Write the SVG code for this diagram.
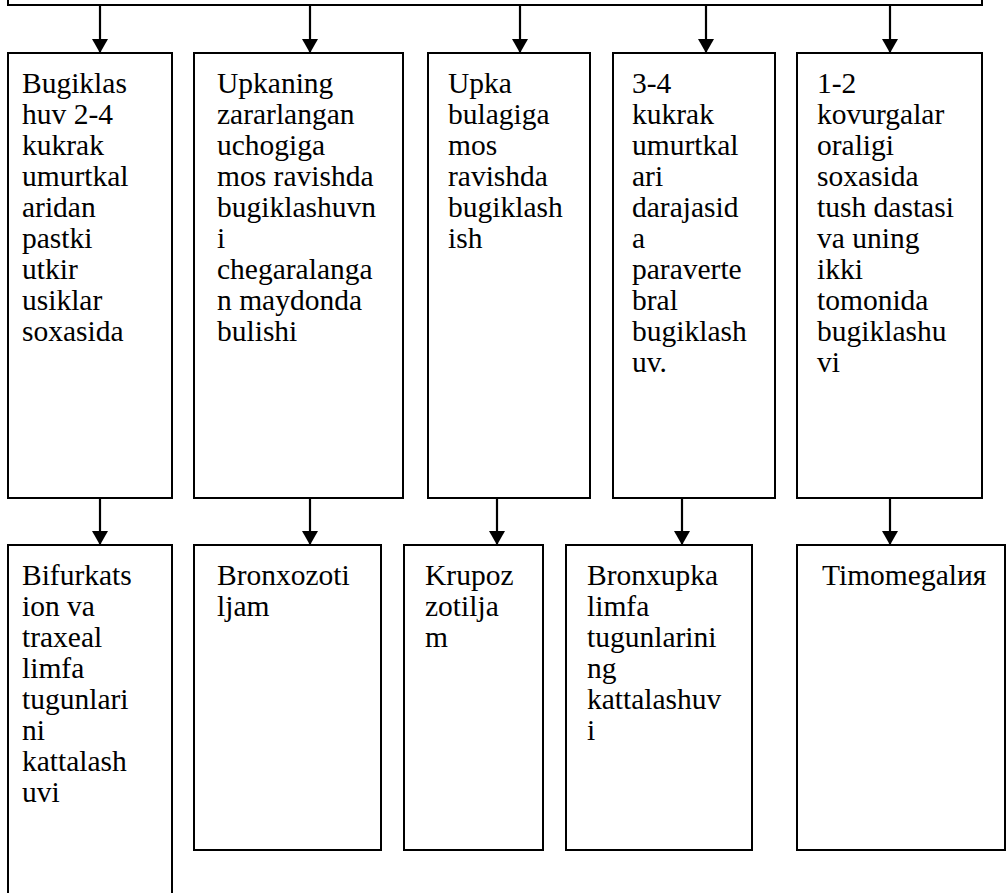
<svg xmlns="http://www.w3.org/2000/svg" width="1007" height="893" viewBox="0 0 1007 893">
  <style>
    .box { fill: #fff; stroke: #000; stroke-width: 2; }
    .lbl { font-family: "Liberation Serif", "Times New Roman", serif; font-size: 29.5px; fill: #000; }
    .conn { stroke: #000; stroke-width: 2.2; fill: none; marker-end: url(#arrow); }
  </style>
  <defs>
    <marker id="arrow" markerUnits="userSpaceOnUse" markerWidth="15" markerHeight="16" refX="14" refY="8" orient="auto">
      <path d="M0,0 L14,8 L0,16 z" fill="#000"/>
    </marker>
  </defs>
  <rect width="1007" height="893" fill="#fff"/>

  <!-- header bar -->
  <g id="header">
    <rect class="box" x="8" y="-10" width="974" height="15"/>
  </g>

  <!-- upper row -->
  <g id="n1">
    <rect class="box" x="8" y="53" width="164" height="445"/>
    <text class="lbl" x="22" y="93">
      <tspan x="22">Bugiklas</tspan><tspan x="22" dy="31">huv 2-4</tspan><tspan x="22" dy="31">kukrak</tspan><tspan x="22" dy="31">umurtkal</tspan><tspan x="22" dy="31">aridan</tspan><tspan x="22" dy="31">pastki</tspan><tspan x="22" dy="31">utkir</tspan><tspan x="22" dy="31">usiklar</tspan><tspan x="22" dy="31">soxasida</tspan>
    </text>
  </g>
  <g id="n2">
    <rect class="box" x="194" y="53" width="209" height="445"/>
    <text class="lbl" x="217" y="93">
      <tspan x="217">Upkaning</tspan><tspan x="217" dy="31">zararlangan</tspan><tspan x="217" dy="31">uchogiga</tspan><tspan x="217" dy="31">mos ravishda</tspan><tspan x="217" dy="31">bugiklashuvn</tspan><tspan x="217" dy="31">i</tspan><tspan x="217" dy="31">chegaralanga</tspan><tspan x="217" dy="31">n maydonda</tspan><tspan x="217" dy="31">bulishi</tspan>
    </text>
  </g>
  <g id="n3">
    <rect class="box" x="428" y="53" width="162" height="445"/>
    <text class="lbl" x="448" y="93">
      <tspan x="448">Upka</tspan><tspan x="448" dy="31">bulagiga</tspan><tspan x="448" dy="31">mos</tspan><tspan x="448" dy="31">ravishda</tspan><tspan x="448" dy="31">bugiklash</tspan><tspan x="448" dy="31">ish</tspan>
    </text>
  </g>
  <g id="n4">
    <rect class="box" x="613" y="53" width="162" height="445"/>
    <text class="lbl" x="632" y="93">
      <tspan x="632">3-4</tspan><tspan x="632" dy="31">kukrak</tspan><tspan x="632" dy="31">umurtkal</tspan><tspan x="632" dy="31">ari</tspan><tspan x="632" dy="31">darajasid</tspan><tspan x="632" dy="31">a</tspan><tspan x="632" dy="31">paraverte</tspan><tspan x="632" dy="31">bral</tspan><tspan x="632" dy="31">bugiklash</tspan><tspan x="632" dy="31">uv.</tspan>
    </text>
  </g>
  <g id="n5">
    <rect class="box" x="797" y="53" width="185" height="445"/>
    <text class="lbl" x="817" y="93">
      <tspan x="817">1-2</tspan><tspan x="817" dy="31">kovurgalar</tspan><tspan x="817" dy="31">oraligi</tspan><tspan x="817" dy="31">soxasida</tspan><tspan x="817" dy="31">tush dastasi</tspan><tspan x="817" dy="31">va uning</tspan><tspan x="817" dy="31">ikki</tspan><tspan x="817" dy="31">tomonida</tspan><tspan x="817" dy="31">bugiklashu</tspan><tspan x="817" dy="31">vi</tspan>
    </text>
  </g>

  <!-- lower row -->
  <g id="m1">
    <rect class="box" x="8" y="545" width="164" height="370"/>
    <text class="lbl" x="22" y="585">
      <tspan x="22">Bifurkats</tspan><tspan x="22" dy="31">ion va</tspan><tspan x="22" dy="31">traxeal</tspan><tspan x="22" dy="31">limfa</tspan><tspan x="22" dy="31">tugunlari</tspan><tspan x="22" dy="31">ni</tspan><tspan x="22" dy="31">kattalash</tspan><tspan x="22" dy="31">uvi</tspan>
    </text>
  </g>
  <g id="m2">
    <rect class="box" x="194" y="545" width="187" height="305"/>
    <text class="lbl" x="217" y="585">
      <tspan x="217">Bronxozoti</tspan><tspan x="217" dy="31">ljam</tspan>
    </text>
  </g>
  <g id="m3">
    <rect class="box" x="404" y="545" width="139" height="305"/>
    <text class="lbl" x="425" y="585">
      <tspan x="425">Krupoz</tspan><tspan x="425" dy="31">zotilja</tspan><tspan x="425" dy="31">m</tspan>
    </text>
  </g>
  <g id="m4">
    <rect class="box" x="566" y="545" width="186" height="305"/>
    <text class="lbl" x="587" y="585">
      <tspan x="587">Bronxupka</tspan><tspan x="587" dy="31">limfa</tspan><tspan x="587" dy="31">tugunlarini</tspan><tspan x="587" dy="31">ng</tspan><tspan x="587" dy="31">kattalashuv</tspan><tspan x="587" dy="31">i</tspan>
    </text>
  </g>
  <g id="m5">
    <rect class="box" x="797" y="545" width="208" height="305"/>
    <text class="lbl" x="822" y="585">Timomegalия</text>
  </g>

  <!-- connectors -->
  <g id="connectors">
    <line class="conn" x1="100" y1="5" x2="100" y2="53"/>
    <line class="conn" x1="310" y1="5" x2="310" y2="53"/>
    <line class="conn" x1="520" y1="5" x2="520" y2="53"/>
    <line class="conn" x1="706" y1="5" x2="706" y2="53"/>
    <line class="conn" x1="890" y1="5" x2="890" y2="53"/>
    <line class="conn" x1="100" y1="498" x2="100" y2="545"/>
    <line class="conn" x1="310" y1="498" x2="310" y2="545"/>
    <line class="conn" x1="497" y1="498" x2="497" y2="545"/>
    <line class="conn" x1="682" y1="498" x2="682" y2="545"/>
    <line class="conn" x1="890" y1="498" x2="890" y2="545"/>
  </g>
</svg>
